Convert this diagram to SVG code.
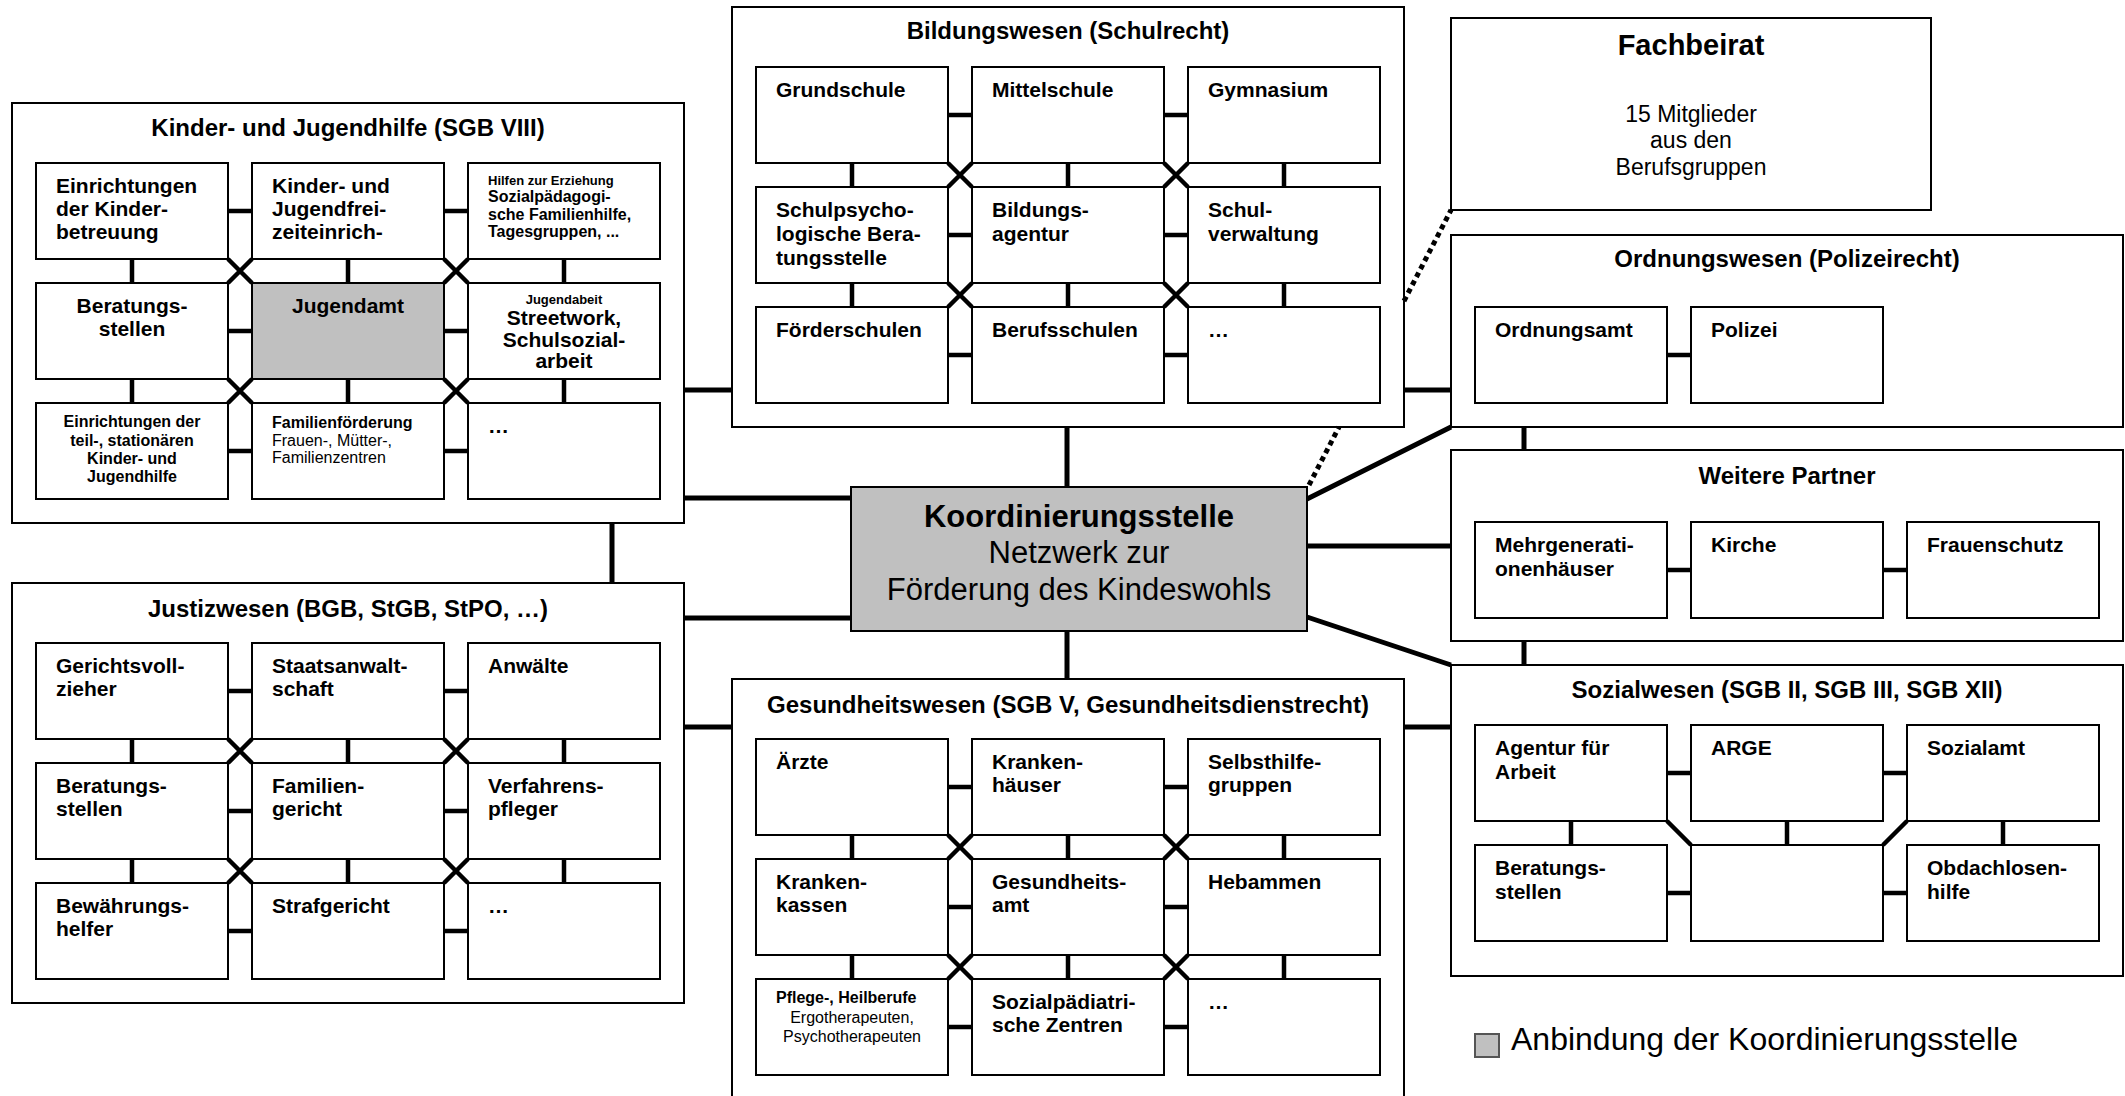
<svg xmlns="http://www.w3.org/2000/svg" xmlns:xlink="http://www.w3.org/1999/xlink" width="2125" height="1096" viewBox="0 0 2125 1096">
<style>
text{font-family:"Liberation Sans",Arial,Helvetica,sans-serif;fill:#000}
.b{font-weight:bold;font-size:21px}
.s{font-weight:bold;font-size:16px}
.r{font-size:16px}
.xs{font-weight:bold;font-size:13px}
.ti{font-weight:bold;font-size:24px;text-anchor:middle}
.m{text-anchor:middle}
.grp{fill:#fff;stroke:#000;stroke-width:2}
.box{fill:#fff;stroke:#000;stroke-width:2}
.hl{fill:#c0c0c0}
.c{stroke:#000;stroke-width:5;fill:none}
.g{stroke:#000;stroke-width:4.5;fill:none}
.dot{stroke-dasharray:5 4}
</style>
<defs>
<path id="gl" class="g" d="M192 48h24M408 48h24M192 168h24M408 168h24M192 288h24M408 288h24M96 96v24M312 96v24M528 96v24M96 216v24M312 216v24M528 216v24M192 96l24 24M216 96l-24 24M408 96l24 24M432 96l-24 24M192 216l24 24M216 216l-24 24M408 216l24 24M432 216l-24 24"/>
</defs>
<rect width="2125" height="1096" fill="#fff"/>

<!-- containers -->
<g id="kinder"><rect class="grp" x="12" y="103" width="672" height="420"/><text class="ti" x="348" y="136">Kinder- und Jugendhilfe (SGB VIII)</text></g>
<g id="justiz"><rect class="grp" x="12" y="583" width="672" height="420"/><text class="ti" x="348" y="617">Justizwesen (BGB, StGB, StPO, …)</text></g>
<g id="bildung"><rect class="grp" x="732" y="7" width="672" height="420"/><text class="ti" x="1068" y="39">Bildungswesen (Schulrecht)</text></g>
<g id="gesundheit"><rect class="grp" x="732" y="679" width="672" height="430"/><text class="ti" x="1068" y="713">Gesundheitswesen (SGB V, Gesundheitsdienstrecht)</text></g>
<g id="ordnung"><rect class="grp" x="1451" y="235" width="672" height="192"/><text class="ti" x="1787" y="267">Ordnungswesen (Polizeirecht)</text></g>
<g id="weitere"><rect class="grp" x="1451" y="450" width="672" height="191"/><text class="ti" x="1787" y="484">Weitere Partner</text></g>
<g id="sozial"><rect class="grp" x="1451" y="665" width="672" height="311"/><text class="ti" x="1787" y="698">Sozialwesen (SGB II, SGB III, SGB XII)</text></g>

<!-- connectors -->
<g id="connectors">
<path class="c" d="M684 390H732M684 498H851M612 523V583M684 618H851M684 727H732M1067 427V487M1067 631V679M1404 390H1451M1404 727H1451M1307 546H1451M1307 499L1451 427M1307 617L1451 665M1524 427V450M1524 641V665"/>
<path class="c dot" d="M1309 485L1339 427M1404 301L1451 210"/>
<use xlink:href="#gl" x="36" y="163"/>
<use xlink:href="#gl" x="36" y="643"/>
<use xlink:href="#gl" x="756" y="67"/>
<use xlink:href="#gl" x="756" y="739"/>
<path class="g" d="M1667 355h24M1667 570h24M1883 570h24M1667 773h24M1883 773h24M1667 893h24M1883 893h24M1571 821v24M1787 821v24M2003 821v24M1667 821l24 24M1907 821l-24 24"/>
</g>

<!-- Kinder- und Jugendhilfe -->
<g id="k1"><rect class="box" x="36" y="163" width="192" height="96"/><text class="b" x="56" y="193">Einrichtungen</text><text class="b" x="56" y="216">der Kinder-</text><text class="b" x="56" y="239">betreuung</text></g>
<g id="k2"><rect class="box" x="252" y="163" width="192" height="96"/><text class="b" x="272" y="193">Kinder- und</text><text class="b" x="272" y="216">Jugendfrei-</text><text class="b" x="272" y="239">zeiteinrich-</text></g>
<g id="k3"><rect class="box" x="468" y="163" width="192" height="96"/><text class="xs" x="488" y="185">Hilfen zur Erziehung</text><text class="s" x="488" y="202">Sozialpädagogi-</text><text class="s" x="488" y="219.5">sche Familienhilfe,</text><text class="s" x="488" y="237">Tagesgruppen, ...</text></g>
<g id="k4"><rect class="box" x="36" y="283" width="192" height="96"/><text class="b m" x="132" y="313">Beratungs-</text><text class="b m" x="132" y="336">stellen</text></g>
<g id="k5"><rect class="box hl" x="252" y="283" width="192" height="96"/><text class="b m" x="348" y="313">Jugendamt</text></g>
<g id="k6"><rect class="box" x="468" y="283" width="192" height="96"/><text class="xs m" x="564" y="304">Jugendabeit</text><text class="b m" x="564" y="325">Streetwork,</text><text class="b m" x="564" y="347">Schulsozial-</text><text class="b m" x="564" y="368">arbeit</text></g>
<g id="k7"><rect class="box" x="36" y="403" width="192" height="96"/><text class="s m" x="132" y="427">Einrichtungen der</text><text class="s m" x="132" y="446">teil-, stationären</text><text class="s m" x="132" y="464">Kinder- und</text><text class="s m" x="132" y="482">Jugendhilfe</text></g>
<g id="k8"><rect class="box" x="252" y="403" width="192" height="96"/><text class="s" x="272" y="428">Familienförderung</text><text class="r" x="272" y="446">Frauen-, Mütter-,</text><text class="r" x="272" y="463">Familienzentren</text></g>
<g id="k9"><rect class="box" x="468" y="403" width="192" height="96"/><text class="b" x="488" y="433">…</text></g>

<!-- Justizwesen -->
<g id="j1"><rect class="box" x="36" y="643" width="192" height="96"/><text class="b" x="56" y="673">Gerichtsvoll-</text><text class="b" x="56" y="696">zieher</text></g>
<g id="j2"><rect class="box" x="252" y="643" width="192" height="96"/><text class="b" x="272" y="673">Staatsanwalt-</text><text class="b" x="272" y="696">schaft</text></g>
<g id="j3"><rect class="box" x="468" y="643" width="192" height="96"/><text class="b" x="488" y="673">Anwälte</text></g>
<g id="j4"><rect class="box" x="36" y="763" width="192" height="96"/><text class="b" x="56" y="793">Beratungs-</text><text class="b" x="56" y="816">stellen</text></g>
<g id="j5"><rect class="box" x="252" y="763" width="192" height="96"/><text class="b" x="272" y="793">Familien-</text><text class="b" x="272" y="816">gericht</text></g>
<g id="j6"><rect class="box" x="468" y="763" width="192" height="96"/><text class="b" x="488" y="793">Verfahrens-</text><text class="b" x="488" y="816">pfleger</text></g>
<g id="j7"><rect class="box" x="36" y="883" width="192" height="96"/><text class="b" x="56" y="913">Bewährungs-</text><text class="b" x="56" y="936">helfer</text></g>
<g id="j8"><rect class="box" x="252" y="883" width="192" height="96"/><text class="b" x="272" y="913">Strafgericht</text></g>
<g id="j9"><rect class="box" x="468" y="883" width="192" height="96"/><text class="b" x="488" y="913">…</text></g>

<!-- Bildungswesen -->
<g id="b1"><rect class="box" x="756" y="67" width="192" height="96"/><text class="b" x="776" y="97">Grundschule</text></g>
<g id="b2"><rect class="box" x="972" y="67" width="192" height="96"/><text class="b" x="992" y="97">Mittelschule</text></g>
<g id="b3"><rect class="box" x="1188" y="67" width="192" height="96"/><text class="b" x="1208" y="97">Gymnasium</text></g>
<g id="b4"><rect class="box" x="756" y="187" width="192" height="96"/><text class="b" x="776" y="217">Schulpsycho-</text><text class="b" x="776" y="241">logische Bera-</text><text class="b" x="776" y="265">tungsstelle</text></g>
<g id="b5"><rect class="box" x="972" y="187" width="192" height="96"/><text class="b" x="992" y="217">Bildungs-</text><text class="b" x="992" y="241">agentur</text></g>
<g id="b6"><rect class="box" x="1188" y="187" width="192" height="96"/><text class="b" x="1208" y="217">Schul-</text><text class="b" x="1208" y="241">verwaltung</text></g>
<g id="b7"><rect class="box" x="756" y="307" width="192" height="96"/><text class="b" x="776" y="337">Förderschulen</text></g>
<g id="b8"><rect class="box" x="972" y="307" width="192" height="96"/><text class="b" x="992" y="337">Berufsschulen</text></g>
<g id="b9"><rect class="box" x="1188" y="307" width="192" height="96"/><text class="b" x="1208" y="337">…</text></g>

<!-- Gesundheitswesen -->
<g id="g1"><rect class="box" x="756" y="739" width="192" height="96"/><text class="b" x="776" y="769">Ärzte</text></g>
<g id="g2"><rect class="box" x="972" y="739" width="192" height="96"/><text class="b" x="992" y="769">Kranken-</text><text class="b" x="992" y="792">häuser</text></g>
<g id="g3"><rect class="box" x="1188" y="739" width="192" height="96"/><text class="b" x="1208" y="769">Selbsthilfe-</text><text class="b" x="1208" y="792">gruppen</text></g>
<g id="g4"><rect class="box" x="756" y="859" width="192" height="96"/><text class="b" x="776" y="889">Kranken-</text><text class="b" x="776" y="912">kassen</text></g>
<g id="g5"><rect class="box" x="972" y="859" width="192" height="96"/><text class="b" x="992" y="889">Gesundheits-</text><text class="b" x="992" y="912">amt</text></g>
<g id="g6"><rect class="box" x="1188" y="859" width="192" height="96"/><text class="b" x="1208" y="889">Hebammen</text></g>
<g id="g7"><rect class="box" x="756" y="979" width="192" height="96"/><text class="s" x="776" y="1003">Pflege-, Heilberufe</text><text class="r m" x="852" y="1023">Ergotherapeuten,</text><text class="r m" x="852" y="1042">Psychotherapeuten</text></g>
<g id="g8"><rect class="box" x="972" y="979" width="192" height="96"/><text class="b" x="992" y="1009">Sozialpädiatri-</text><text class="b" x="992" y="1032">sche Zentren</text></g>
<g id="g9"><rect class="box" x="1188" y="979" width="192" height="96"/><text class="b" x="1208" y="1009">…</text></g>

<!-- Ordnungswesen -->
<g id="o1"><rect class="box" x="1475" y="307" width="192" height="96"/><text class="b" x="1495" y="337">Ordnungsamt</text></g>
<g id="o2"><rect class="box" x="1691" y="307" width="192" height="96"/><text class="b" x="1711" y="337">Polizei</text></g>

<!-- Weitere Partner -->
<g id="w1"><rect class="box" x="1475" y="522" width="192" height="96"/><text class="b" x="1495" y="552">Mehrgenerati-</text><text class="b" x="1495" y="576">onenhäuser</text></g>
<g id="w2"><rect class="box" x="1691" y="522" width="192" height="96"/><text class="b" x="1711" y="552">Kirche</text></g>
<g id="w3"><rect class="box" x="1907" y="522" width="192" height="96"/><text class="b" x="1927" y="552">Frauenschutz</text></g>

<!-- Sozialwesen -->
<g id="s1"><rect class="box" x="1475" y="725" width="192" height="96"/><text class="b" x="1495" y="755">Agentur für</text><text class="b" x="1495" y="779">Arbeit</text></g>
<g id="s2"><rect class="box" x="1691" y="725" width="192" height="96"/><text class="b" x="1711" y="755">ARGE</text></g>
<g id="s3"><rect class="box" x="1907" y="725" width="192" height="96"/><text class="b" x="1927" y="755">Sozialamt</text></g>
<g id="s4"><rect class="box" x="1475" y="845" width="192" height="96"/><text class="b" x="1495" y="875">Beratungs-</text><text class="b" x="1495" y="899">stellen</text></g>
<g id="s5"><rect class="box" x="1691" y="845" width="192" height="96"/></g>
<g id="s6"><rect class="box" x="1907" y="845" width="192" height="96"/><text class="b" x="1927" y="875">Obdachlosen-</text><text class="b" x="1927" y="899">hilfe</text></g>

<!-- Fachbeirat -->
<g id="fachbeirat"><rect class="box" x="1451" y="18" width="480" height="192"/><text class="m" x="1691" y="55" font-size="29" font-weight="bold">Fachbeirat</text><text class="m" x="1691" y="122" font-size="23">15 Mitglieder</text><text class="m" x="1691" y="148" font-size="23">aus den</text><text class="m" x="1691" y="175" font-size="23">Berufsgruppen</text></g>

<!-- Koordinierungsstelle -->
<g id="koord"><rect class="box hl" x="851" y="487" width="456" height="144"/><text class="m" x="1079" y="527" font-size="31" font-weight="bold">Koordinierungsstelle</text><text class="m" x="1079" y="563" font-size="31">Netzwerk zur</text><text class="m" x="1079" y="600" font-size="31">Förderung des Kindeswohls</text></g>

<!-- Legende -->
<g id="legend"><rect x="1475" y="1034" width="24" height="23" fill="#c0c0c0" stroke="#555" stroke-width="2"/><text x="1511" y="1050" font-size="32">Anbindung der Koordinierungsstelle</text></g>
</svg>
